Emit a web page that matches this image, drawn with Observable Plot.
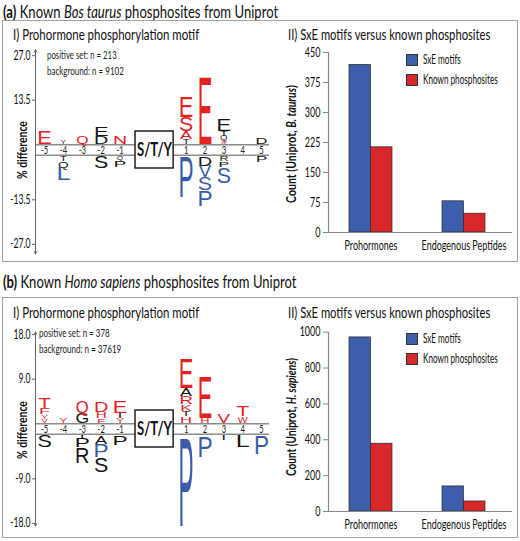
<!DOCTYPE html>
<html><head><meta charset="utf-8">
<script src="https://cdn.jsdelivr.net/npm/d3@7"></script>
<script src="https://cdn.jsdelivr.net/npm/@observablehq/plot@0.6"></script>
<style>
body{margin:0;background:#fff;}
#root{position:relative;width:520px;height:541px;overflow:hidden;background:#fff;color:#111;
 font-family:Lato,'Open Sans',sans-serif;}
.t{position:absolute;white-space:nowrap;line-height:1;transform-origin:0 50%;}
.r{position:absolute;white-space:nowrap;line-height:1;}
.box{position:absolute;border:1.5px solid #a3a3a3;box-sizing:border-box;}
.sw{position:absolute;width:12px;height:12px;border:0.8px solid #333;box-sizing:border-box;}
svg{position:absolute;overflow:visible;}
</style></head>
<body><div id="root"></div>
<script>
// ---------------- DATA ----------------
const positions = [-5, -4, -3, -2, -1, 1, 2, 3, 4, 5];
// motif letters: [position, residue, % difference, significant(1/0)]
// above: listed from the band upward; below: listed from the band downward
const motifA_up = [
  [-5, "E", 4.1, 1],
  [-4, "Y", 1.0, 0],
  [-3, "Q", 2.3, 1],
  [-2, "D", 2.4, 0], [-2, "E", 2.6, 0],
  [-1, "N", 2.3, 1],
  [1, "T", 1.4, 0], [1, "A", 2.5, 1], [1, "S", 4.2, 1], [1, "E", 6.4, 1],
  [2, "E", 20.8, 1],
  [3, "W", 1.0, 1], [3, "Q", 1.4, 0], [3, "T", 1.5, 0], [3, "E", 3.7, 0],
  [5, "D", 2.0, 0]
];
const motifA_down = [
  [-4, "T", -1.4, 0], [-4, "Q", -2.0, 0], [-4, "L", -3.8, 1],
  [-2, "S", -3.6, 0],
  [-1, "Q", -1.2, 0], [-1, "P", -2.0, 0],
  [1, "P", -12.3, 1],
  [2, "D", -2.9, 0], [2, "V", -3.4, 1], [2, "S", -3.9, 1], [2, "P", -4.8, 1],
  [3, "R", -1.5, 0], [3, "P", -1.7, 0], [3, "S", -4.8, 1],
  [5, "P", -1.8, 0]
];
const motifB_up = [
  [-5, "V", 0.8, 1], [-5, "Y", 0.9, 1], [-5, "F", 1.2, 1], [-5, "T", 2.0, 1],
  [-4, "Y", 1.0, 1],
  [-3, "G", 2.0, 0], [-3, "Q", 2.4, 1],
  [-2, "F", 0.9, 1], [-2, "H", 1.2, 1], [-2, "D", 2.2, 1],
  [-1, "Y", 1.0, 1], [-1, "I", 1.0, 0], [-1, "E", 2.3, 1],
  [1, "H", 1.3, 1], [1, "T", 1.1, 0], [1, "K", 1.4, 1], [1, "R", 1.5, 1], [1, "A", 1.6, 0], [1, "E", 6.2, 1],
  [2, "H", 1.0, 1], [2, "E", 8.5, 1],
  [3, "V", 1.8, 1],
  [4, "W", 1.3, 1], [4, "T", 2.0, 1]
];
const motifB_down = [
  [-5, "S", -2.4, 0],
  [-3, "I", -0.5, 0], [-3, "P", -1.8, 0], [-3, "R", -3.2, 0],
  [-2, "A", -1.7, 0], [-2, "P", -2.7, 1], [-2, "S", -3.0, 0],
  [-1, "P", -1.9, 0],
  [1, "P", -18.3, 1],
  [2, "P", -4.3, 1],
  [3, "I", -1.0, 0],
  [4, "L", -2.3, 0],
  [5, "P", -3.7, 1]
];
const motifTicksA = [27.0, 13.5, -13.5, -27.0];
const motifTicksB = [18.0, 9.0, -9.0, -18.0];
const arrowA = [30.4, -31.5];
const arrowB = [19.6, -19.6];
const nPositiveA = 213, nBackgroundA = 9102;
const nPositiveB = 378, nBackgroundB = 37619;

const barGroups = ["Prohormones", "Endogenous Peptides"];
const barSeries = ["SxE motifs", "Known phosphosites"];
const sxeA = [419, 78];
const knownA = [213, 47];
const sxeB = [971, 140];
const knownB = [378, 56];
const barTicksA = [0, 75, 150, 225, 300, 375, 450];
const barTicksB = [0, 200, 400, 600, 800, 1000];

// ---------------- STYLE ----------------
const FONT = "Lato, 'Open Sans', sans-serif";
const LETTER_FONT = "Liberation Sans, Arial, sans-serif";
const LF = 20, CAP = 0.716;
const INK = {W:0.92, M:0.75, Q:0.72, G:0.68, A:0.66, V:0.64, Y:0.64, K:0.6, R:0.6, D:0.6,
             N:0.58, H:0.58, E:0.55, P:0.53, S:0.56, T:0.58, L:0.48, F:0.48};
const RED = "#e2231f", BLUE = "#3a5ca8", BLACK = "#151515";
const BAR_BLUE = "#3d5eab", BAR_RED = "#d7282a";

// horizontal condensing factor so the humanist sans matches the condensed face of the figure
const ctx = document.createElement("canvas").getContext("2d");
ctx.font = "13px Lato";
const SQ = 85 / ctx.measureText("Endogenous Peptides").width;

const root = document.getElementById("root");
function el(html, target) {
  const d = document.createElement("div"); d.innerHTML = html; const n = d.firstElementChild; root.appendChild(n);
  if (target) { const s = target / n.offsetWidth; n.style.transform = (n.dataset.pre || "") + ` scaleX(${s})`; }
  return n;
}
function condenseSvgText(chart, skip) {
  chart.querySelectorAll("text").forEach(t => {
    if (skip && skip.has(t)) return;
    t.setAttribute("transform", (t.getAttribute("transform") || "") + ` scale(${SQ},1)`);
  });
}

const slot = p => p < 0 ? p : p + 1.5;
const toRows = arr => arr.map(([pos, res, value, sig]) => ({pos, slot: slot(pos), res, value, sig,
  color: sig ? (value > 0 ? RED : BLUE) : BLACK}));

function motifPlot(cfg, L) {
  const up = toRows(cfg.up), down = toRows(cfg.down);
  const W = 272, H = L.motifH, ml = 35, mr = 3, mt = 2, mb = 2;
  const zeroSvg = L.zero - L.motifTop;
  const Dp = (zeroSvg - mt) / L.pxPer, Dn = (H - mb - zeroSvg) / L.pxPer;
  const gap = 5.25;
  const xdom = [-5.48, 6.92];
  const bh = 18.5 / L.pxPer;
  const chart = Plot.plot({
    width: W, height: H, marginLeft: ml, marginRight: mr, marginTop: mt, marginBottom: mb,
    x: {domain: xdom, axis: null},
    y: {domain: [-Dn, Dp], axis: null},
    color: {type: "identity"},
    style: {fontFamily: FONT, fontSize: "11px", color: "#111", background: "transparent", overflow: "visible"},
    marks: [
      Plot.ruleY([0], {dy: -gap, stroke: "#8c8c8c", strokeWidth: 1.6}),
      Plot.ruleY([0], {dy: gap, stroke: "#8c8c8c", strokeWidth: 1.6}),
      Plot.arrow(cfg.arrow.map(v => ({x: xdom[0], y: v})), {x1: "x", x2: "x", y1: 0, y2: "y", headLength: 4, stroke: "#666", strokeWidth: 1}),
      Plot.axisY({ticks: cfg.ticks.filter(t => t > 0), dy: -gap, tickFormat: d => d.toFixed(1), tickSize: 3, tickPadding: 2, label: null, stroke: "#666", fontSize: 12.5}),
      Plot.axisY({ticks: cfg.ticks.filter(t => t < 0), dy: gap, tickFormat: d => d.toFixed(1), tickSize: 3, tickPadding: 2, label: null, stroke: "#666", fontSize: 12.5}),
      Plot.text(positions, {x: slot, y: 0, text: d => String(d), fontSize: 11, fill: "#222"}),
      Plot.rect([{x1: -0.18, x2: 1.84, y1: -bh, y2: bh}], {x1: "x1", x2: "x2", y1: "y1", y2: "y2", fill: "white", stroke: "#111", strokeWidth: 1.4}),
      Plot.text(["S/T/Y"], {x: 0.83, y: 0, fontSize: 19, fontWeight: "bold", fill: "#111"}),
      Plot.text(up, Plot.stackY1({x: "slot", y: "value", text: "res", fill: "color", fontFamily: LETTER_FONT, fontSize: LF, lineAnchor: "bottom", dy: -(gap + 1.2)})),
      Plot.text(down, Plot.stackY2({x: "slot", y: "value", text: "res", fill: "color", fontFamily: LETTER_FONT, fontSize: LF, lineAnchor: "bottom", dy: gap + 1.2}))
    ]
  });
  const ys = chart.scale("y");
  const pxPer = Math.abs(ys.range[0] - ys.range[1]) / Math.abs(ys.domain[1] - ys.domain[0]);
  const groups = [...chart.querySelectorAll("g")].filter(g => g.getAttribute("font-family") === LETTER_FONT);
  const letters = new Set();
  [up, down].forEach((data, k) => {
    const g = groups[k]; if (!g) return;
    d3.select(g).selectAll("text").each(function(i) {
      letters.add(this);
      const d = data[i];
      const h = Math.abs(d.value) * pxPer;
      const w = Math.min(12, Math.max(2.5, 1.5 * h));
      const sx = d.res === "I" ? 0.8 : w / ((INK[d.res] || 0.6) * LF);
      const sy = h / (CAP * LF);
      this.setAttribute("transform", (this.getAttribute("transform") || "") + ` scale(${sx.toFixed(4)},${sy.toFixed(4)})`);
    });
  });
  condenseSvgText(chart, letters);
  chart.style.left = "0px"; chart.style.top = L.motifTop + "px";
  root.appendChild(chart);
}

function barPlot(cfg, L) {
  const rows = barGroups.flatMap((g, i) => [
    {group: g, series: barSeries[0], value: cfg.sxe[i]},
    {group: g, series: barSeries[1], value: cfg.known[i]}]);
  const W = 245, H = L.barH, ml = 53, mr = 8;
  const mt = L.barMaxY - L.barTop, mb = L.barTop + H - L.barZero;
  const PI = 0.54, PO = 0.254;
  const fw = W - ml - mr, step = fw / (2 - PI + 2 * PO), bw = step * (1 - PI);
  const chart = Plot.plot({
    width: W, height: H, marginLeft: ml, marginRight: mr, marginTop: mt, marginBottom: mb,
    x: {domain: barGroups, paddingInner: PI, paddingOuter: PO, align: 0.44, label: null},
    y: {domain: [0, cfg.barMax], label: null},
    color: {domain: barSeries, range: [BAR_BLUE, BAR_RED]},
    style: {fontFamily: FONT, fontSize: "12px", color: "#111", background: "transparent", overflow: "visible"},
    marks: [
      Plot.barY(rows.filter(d => d.series === barSeries[0]), {x: "group", y: "value", fill: "series", insetRight: bw / 2, stroke: "#2a2a2a", strokeWidth: 0.7}),
      Plot.barY(rows.filter(d => d.series === barSeries[1]), {x: "group", y: "value", fill: "series", insetLeft: bw / 2, stroke: "#2a2a2a", strokeWidth: 0.7}),
      Plot.ruleY([0], {stroke: "#888", strokeWidth: 1.2}),
      Plot.frame({anchor: "left", stroke: "#888", strokeWidth: 1.2}),
      Plot.axisY({ticks: cfg.barTicks, tickFormat: d => String(d), tickSize: 5, tickPadding: 3, label: null, stroke: "#888", fontSize: 13}),
      Plot.axisX({tickSize: 0, tickPadding: 8, label: null, fontSize: 13})
    ]
  });
  condenseSvgText(chart);
  chart.style.left = "275px"; chart.style.top = L.barTop + "px";
  root.appendChild(chart);
}

const panels = [
  {letter: "a", species: "Bos taurus", short: "B. taurus", up: motifA_up, down: motifA_down, ticks: motifTicksA, arrow: arrowA,
   nPos: nPositiveA, nBg: nBackgroundA, sxe: sxeA, known: knownA, barTicks: barTicksA, barMax: 450,
   L: {title: 3, titleW: 275, boxTop: 20, boxH: 242, sub: 27, ann: 49, annLeft: 47, annW: [70, 77], motifTop: 42, motifH: 222, zero: 149.5, pxPer: 3.3,
       barTop: 40, barH: 225, barZero: 232, barMaxY: 52, legend: 54, ylab: 144, pdiff: 150}},
  {letter: "b", species: "Homo sapiens", short: "H. sapiens", up: motifB_up, down: motifB_down, ticks: motifTicksB, arrow: arrowB,
   nPos: nPositiveB, nBg: nBackgroundB, sxe: sxeB, known: knownB, barTicks: barTicksB, barMax: 1000,
   L: {title: 273, titleW: 293, boxTop: 297, boxH: 241, sub: 305, ann: 327, annLeft: 39, annW: [71, 82], motifTop: 318, motifH: 220, zero: 428.5, pxPer: 4.95,
       barTop: 318, barH: 220, barZero: 511, barMaxY: 331.7, legend: 333, ylab: 417, pdiff: 430}}
];

for (const p of panels) {
  const L = p.L;
  el(`<div class="t" style="left:3px;top:${L.title}px;font-size:17.5px"><b>(${p.letter})</b> Known <i>${p.species}</i> phosphosites from Uniprot</div>`, L.titleW);
  el(`<div class="box" style="left:2px;top:${L.boxTop}px;width:516px;height:${L.boxH}px"></div>`);
  el(`<div class="t" style="left:13px;top:${L.sub}px;font-size:15px">I) Prohormone phosphorylation motif</div>`, 186);
  el(`<div class="t" style="left:288px;top:${L.sub}px;font-size:15px">II) SxE motifs versus known phosphosites</div>`, 202);
  el(`<div class="t" style="left:${L.annLeft}px;top:${L.ann}px;font-size:11.5px;color:#222">positive set: n = ${p.nPos}</div>`, L.annW[0]);
  el(`<div class="t" style="left:${L.annLeft}px;top:${L.ann + 16}px;font-size:11.5px;color:#222">background: n = ${p.nBg}</div>`, L.annW[1]);
  el(`<div class="r" data-pre="translate(-50%,-50%) rotate(-90deg)" style="left:22px;top:${L.pdiff}px;font-size:14px;font-weight:bold">% difference</div>`, 58);
  el(`<div class="r" data-pre="translate(-50%,-50%) rotate(-90deg)" style="left:292px;top:${L.ylab}px;font-size:13.5px;font-weight:bold">Count (Uniprot, <i>${p.short}</i>)</div>`, 118);
  motifPlot(p, L);
  barPlot(p, L);
  el(`<div class="sw" style="left:406px;top:${L.legend}px;background:${BAR_BLUE}"></div>`);
  el(`<div class="sw" style="left:406px;top:${L.legend + 20}px;background:${BAR_RED}"></div>`);
  el(`<div class="t" style="left:423px;top:${L.legend}px;font-size:12.5px">${barSeries[0]}</div>`, 38);
  el(`<div class="t" style="left:423px;top:${L.legend + 20}px;font-size:12.5px">${barSeries[1]}</div>`, 75);
}
</script>
</body></html>
